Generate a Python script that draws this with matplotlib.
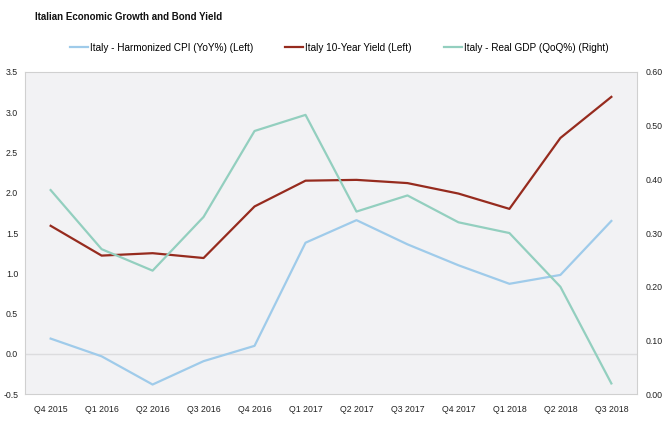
import matplotlib
matplotlib.use("Agg")
from matplotlib import pyplot as plt

plt.rcParams['font.family'] = ['Liberation Sans', 'DejaVu Sans']

quarters = ["Q4 2015", "Q1 2016", "Q2 2016", "Q3 2016", "Q4 2016", "Q1 2017",
            "Q2 2017", "Q3 2017", "Q4 2017", "Q1 2018", "Q2 2018", "Q3 2018"]
cpi = [0.19, -0.03, -0.38, -0.09, 0.10, 1.38, 1.66, 1.36, 1.10, 0.87, 0.98, 1.65]
yield_10y = [1.59, 1.22, 1.25, 1.19, 1.83, 2.15, 2.16, 2.12, 1.99, 1.80, 2.68, 3.19]
gdp = [0.38, 0.27, 0.23, 0.33, 0.49, 0.52, 0.34, 0.37, 0.32, 0.30, 0.20, 0.02]

left_ticks = [-0.5, 0.0, 0.5, 1.0, 1.5, 2.0, 2.5, 3.0, 3.5]
right_ticks = [0.0, 0.1, 0.2, 0.3, 0.4, 0.5, 0.6]

fig = plt.figure(figsize=(6.62, 4.28), dpi=100)
ax = fig.add_axes([0.038, 0.079, 0.924, 0.753])
ax2 = ax.twinx()

x = range(len(quarters))
l1, = ax.plot(x, cpi, color='#9FCBEA', lw=1.6, label="Italy - Harmonized CPI (YoY%) (Left)")
l2, = ax.plot(x, yield_10y, color='#962B1E', lw=1.6, label="Italy 10-Year Yield (Left)")
l3, = ax2.plot(x, gdp, color='#93CFBF', lw=1.6, label="Italy - Real GDP (QoQ%) (Right)")

ax.set_facecolor('#F2F2F4')
ax.axhline(0, color='#DCDCDE', lw=1, zorder=0)
ax.set_xlim(-0.5, len(quarters) - 0.5)
ax.set_ylim(-0.5, 3.5)
ax2.set_ylim(0, 0.6)
ax.set_xticks(list(x))
ax.set_xticklabels(quarters)
ax.set_yticks(left_ticks)
ax.set_yticklabels([f"{v:.1f}" for v in left_ticks])
ax2.set_yticks(right_ticks)
ax2.set_yticklabels([f"{v:.2f}" for v in right_ticks])

for a in (ax, ax2):
    for s in a.spines.values():
        s.set_visible(False)
    a.tick_params(length=0, labelsize=6.3, colors='#222222')
ax.tick_params(axis='y', pad=5)
ax2.tick_params(axis='y', pad=6)
ax.tick_params(axis='x', pad=8)
for s in ['left', 'bottom', 'right', 'top']:
    ax.spines[s].set_visible(True)
    ax.spines[s].set_color('#D0D0D0')
    ax.spines[s].set_linewidth(0.8)

fig.text(0.053, 0.96, "Italian Economic Growth and Bond Yield", fontsize=7,
         fontweight='bold', va='center', ha='left', color='#111111')
fig.legend(handles=[l1, l2, l3], loc='center', bbox_to_anchor=(0.512, 0.888), ncol=3,
           frameon=False, fontsize=7.2, handlelength=1.8, handletextpad=0.2, columnspacing=3.2)

fig.savefig("out.png", dpi=100)
